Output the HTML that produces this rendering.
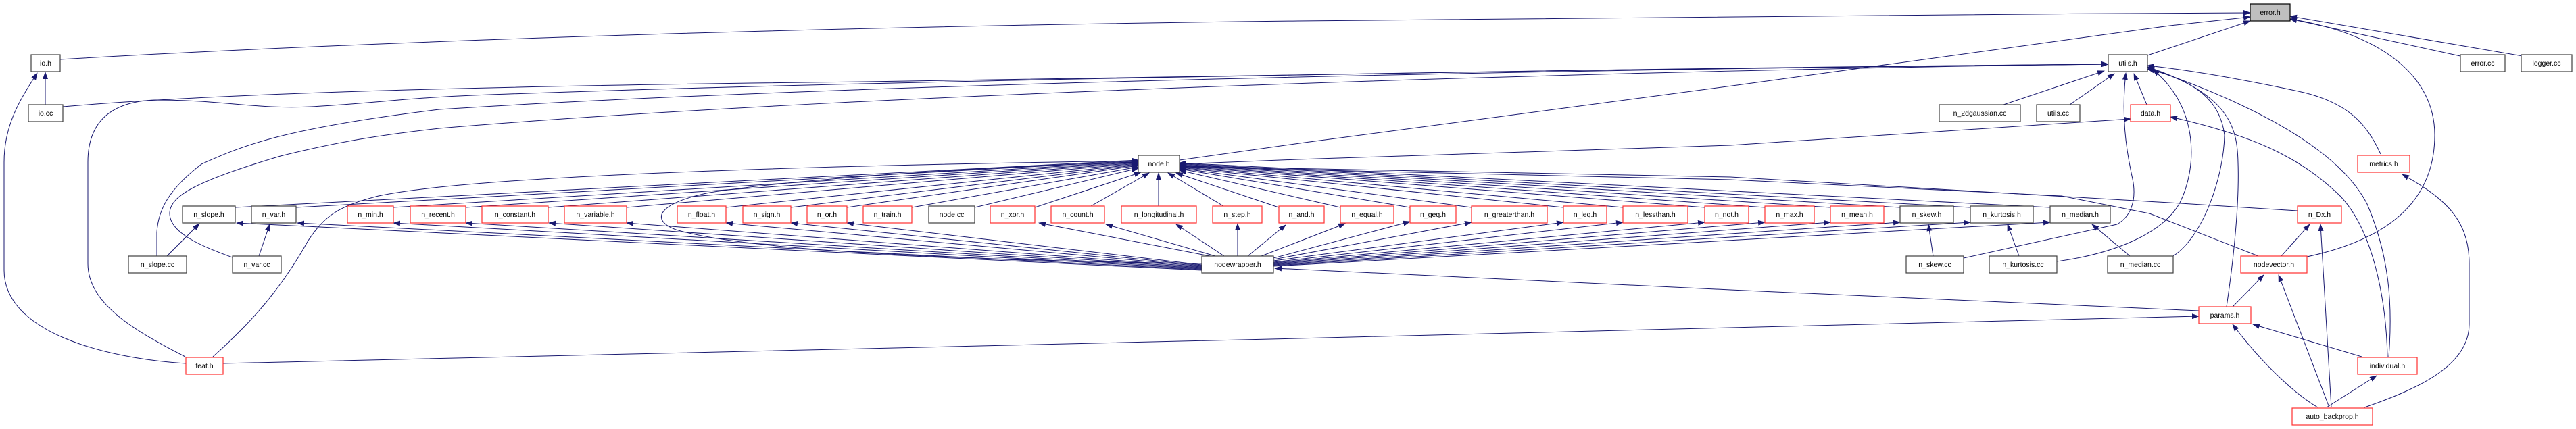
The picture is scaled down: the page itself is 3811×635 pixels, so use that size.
<!DOCTYPE html>
<html><head><meta charset="utf-8"><style>
html,body{margin:0;padding:0;background:#fff}
svg{display:block}
text{font-family:"Liberation Sans",sans-serif;font-size:10.5px;fill:#000;text-anchor:middle}
.e{fill:none;stroke:#191970;stroke-width:1}
.b{fill:#fff;stroke:#404040;stroke-width:1.2}
.r{fill:#fff;stroke:#ff3030;stroke-width:1.2}
</style></head><body>
<svg width="3811" height="635" viewBox="0 0 3811 635" xmlns="http://www.w3.org/2000/svg">
<defs><marker id="a" markerWidth="11" markerHeight="8" refX="10" refY="4" orient="auto" markerUnits="userSpaceOnUse"><path d="M0,0 L11,4 L0,8 z" fill="#191970"/></marker></defs>
<g class="e" marker-end="url(#a)">
<!-- to error.h -->
<path d="M89,88 C600,58 1300,38 1920,31 S2900,21 3329,19"/>
<path d="M1745,237 L1930,211 L2570,126 L3210,38 L3329,25"/>
<path d="M3177,82 L3329,31"/>
<path d="M3640,83 L3388,28"/>
<path d="M3732,83 L3388,24"/>
<path d="M3413,380 C3530,355 3602,300 3602,200 C3602,110 3520,50 3388,28"/>
<!-- io.h -->
<path d="M67,155 L67,107"/>
<path d="M275,538 C150,530 6,490 6,400 L6,240 C6,180 35,140 55,108"/>
<!-- to utils.h -->
<path d="M93,158 C300,140 640,128 1280,121 S2500,98 3119,95"/>
<path d="M274,528 C200,490 130,450 130,390 L130,240 C130,175 170,150 230,148 C330,148 380,162 460,158 C540,154 600,145 700,141 C1300,118 2500,100 3119,95"/>
<path d="M232,379 L232,344 C234,310 250,280 298,243 C360,215 420,190 650,162 C1300,120 2500,100 3119,95"/>
<path d="M344,381 C300,365 250,345 251,315 C252,290 290,268 415,231 C500,210 560,200 650,190 C1300,135 2500,102 3119,95"/>
<path d="M2964,155 L3113,105"/>
<path d="M3062,155 L3128,109"/>
<path d="M3176,155 L3157,109"/>
<path d="M2905,382 L3132,332 C3150,322 3162,300 3155,265 C3145,220 3138,170 3145,108"/>
<path d="M3043,387 C3130,375 3200,345 3225,300 C3250,250 3255,160 3185,103"/>
<path d="M3215,379 C3260,350 3290,260 3291,200 C3285,150 3250,120 3177,102"/>
<path d="M3294,454 C3305,380 3313,300 3311,241 C3310,190 3300,140 3177,99"/>
<path d="M3534,528 C3540,450 3535,380 3502,302 C3470,240 3380,170 3177,100"/>
<path d="M3522,228 C3500,180 3470,150 3400,135 C3330,120 3250,105 3177,97"/>
<!-- data.h -->
<path d="M1745,243 L1920,236 L2560,215 L3152,176"/>
<path d="M3532,528 C3530,440 3510,340 3462,290 C3400,230 3330,200 3211,173"/>
<!-- to node.h -->
<path d="M315,528 C380,470 420,420 456,356 C480,320 500,305 560,290 C700,260 1200,245 1684,238"/>
<path d="M348,307 L1684,237"/><path d="M438,307 L1684,238"/>
<path d="M582,307 L1684,239"/><path d="M689,307 L1684,240"/>
<path d="M811,307 L1684,241"/><path d="M927,307 L1684,242"/>
<path d="M1074,307 L1684,243"/><path d="M1170,307 L1684,244"/>
<path d="M1253,307 L1684,245"/><path d="M1349,307 L1684,247"/>
<path d="M1442,307 L1684,249"/><path d="M1531,307 L1688,255"/>
<path d="M1614,305 L1700,256"/><path d="M1714,305 L1714,256"/>
<path d="M1810,305 L1728,256"/><path d="M1892,307 L1740,256"/>
<path d="M1983,307 L1745,252"/><path d="M2086,307 L1745,250"/>
<path d="M2177,307 L1745,249"/><path d="M2313,307 L1745,248"/>
<path d="M2401,307 L1745,247"/><path d="M2522,307 L1745,246"/>
<path d="M2611,307 L1745,245"/><path d="M2708,307 L1745,244"/>
<path d="M2811,307 L1745,243"/><path d="M2915,307 L1745,242"/>
<path d="M3033,307 L1745,241"/>
<path d="M3399,312 L3210,300 L2560,262 L1745,246"/>
<path d="M3341,379 L3180,316 L3050,290 L2560,266 L1745,247"/>
<path d="M1778,390 C1400,385 1100,370 1000,340 C960,325 975,300 1050,285 C1200,262 1500,245 1684,240"/>
<!-- nodewrapper to n_*.h -->
<path d="M1778,400 L350,330"/><path d="M1778,399 L440,330"/>
<path d="M1778,398 L582,330"/><path d="M1778,397 L689,330"/>
<path d="M1778,396 L812,330"/><path d="M1778,395 L927,330"/>
<path d="M1778,394 L1074,330"/><path d="M1778,393 L1170,330"/>
<path d="M1778,392 L1253,330"/><path d="M1790,379 L1537,330"/>
<path d="M1798,379 L1636,332"/><path d="M1811,379 L1740,332"/>
<path d="M1831,379 L1831,331"/><path d="M1846,379 L1902,333"/>
<path d="M1866,379 L1990,331"/><path d="M1884,382 L2086,328"/>
<path d="M1884,384 L2177,329"/><path d="M1884,386 L2313,329"/>
<path d="M1884,388 L2401,329"/><path d="M1884,389 L2522,329"/>
<path d="M1884,390 L2611,329"/><path d="M1884,391 L2708,329"/>
<path d="M1884,392 L2811,329"/><path d="M1884,393 L2915,329"/>
<path d="M1884,394 L3033,329"/>
<!-- .cc to .h -->
<path d="M247,379 L295,331"/><path d="M383,379 L399,332"/>
<path d="M2860,379 L2853,332"/><path d="M2987,379 L2970,332"/>
<path d="M3151,379 L3095,332"/>
<!-- lower right -->
<path d="M3253,460 L2560,429 L1886,397"/>
<path d="M330,538 L1280,516 L1920,501 L2560,485 L3253,468"/>
<path d="M3498,603 C3580,575 3653,540 3653,480 L3653,390 C3653,320 3610,290 3554,258"/>
<path d="M3375,379 L3417,332"/>
<path d="M3449,603 L3433,332"/>
<path d="M3303,454 L3349,407"/>
<path d="M3446,603 L3371,407"/>
<path d="M3494,528 L3333,480"/>
<path d="M3429,603 C3390,580 3340,530 3303,480"/>
<path d="M3442,603 L3516,556"/>
</g>
<g>
<rect x="3329" y="6" width="59" height="25" fill="#bfbfbf" stroke="#000" stroke-width="1.2"/><text x="3358.5" y="22">error.h</text>
<rect class="b" x="46" y="81" width="43" height="25"/><text x="67.5" y="97">io.h</text>
<rect class="b" x="3119" y="81" width="58" height="25"/><text x="3148" y="97">utils.h</text>
<rect class="b" x="3640" y="81" width="66" height="25"/><text x="3673" y="97">error.cc</text>
<rect class="b" x="3730" y="81" width="75" height="25"/><text x="3767.5" y="97">logger.cc</text>
<rect class="b" x="42" y="155" width="51" height="25"/><text x="67.5" y="171">io.cc</text>
<rect class="b" x="2869" y="155" width="120" height="25"/><text x="2929" y="171">n_2dgaussian.cc</text>
<rect class="b" x="3013" y="155" width="64" height="25"/><text x="3045" y="171">utils.cc</text>
<rect class="r" x="3152" y="155" width="59" height="25"/><text x="3181.5" y="171">data.h</text>
<rect class="b" x="1684" y="230" width="61" height="25"/><text x="1714.5" y="246">node.h</text>
<rect class="r" x="3488" y="230" width="77" height="25"/><text x="3526.5" y="246">metrics.h</text>
<rect class="b" x="270" y="305" width="78" height="25"/><text x="309" y="321">n_slope.h</text>
<rect class="b" x="372" y="305" width="66" height="25"/><text x="405" y="321">n_var.h</text>
<rect class="r" x="514" y="305" width="68" height="25"/><text x="548" y="321">n_min.h</text>
<rect class="r" x="607" y="305" width="82" height="25"/><text x="648" y="321">n_recent.h</text>
<rect class="r" x="713" y="305" width="98" height="25"/><text x="762" y="321">n_constant.h</text>
<rect class="r" x="835" y="305" width="92" height="25"/><text x="881" y="321">n_variable.h</text>
<rect class="r" x="1002" y="305" width="72" height="25"/><text x="1038" y="321">n_float.h</text>
<rect class="r" x="1099" y="305" width="71" height="25"/><text x="1134.5" y="321">n_sign.h</text>
<rect class="r" x="1194" y="305" width="59" height="25"/><text x="1223.5" y="321">n_or.h</text>
<rect class="r" x="1277" y="305" width="72" height="25"/><text x="1313" y="321">n_train.h</text>
<rect class="b" x="1374" y="305" width="68" height="25"/><text x="1408" y="321">node.cc</text>
<rect class="r" x="1465" y="305" width="66" height="25"/><text x="1498" y="321">n_xor.h</text>
<rect class="r" x="1555" y="305" width="79" height="25"/><text x="1594.5" y="321">n_count.h</text>
<rect class="r" x="1659" y="305" width="111" height="25"/><text x="1714.5" y="321">n_longitudinal.h</text>
<rect class="r" x="1794" y="305" width="73" height="25"/><text x="1830.5" y="321">n_step.h</text>
<rect class="r" x="1892" y="305" width="67" height="25"/><text x="1925.5" y="321">n_and.h</text>
<rect class="r" x="1983" y="305" width="79" height="25"/><text x="2022.5" y="321">n_equal.h</text>
<rect class="r" x="2086" y="305" width="68" height="25"/><text x="2120" y="321">n_geq.h</text>
<rect class="r" x="2177" y="305" width="112" height="25"/><text x="2233" y="321">n_greaterthan.h</text>
<rect class="r" x="2313" y="305" width="64" height="25"/><text x="2345" y="321">n_leq.h</text>
<rect class="r" x="2401" y="305" width="96" height="25"/><text x="2449" y="321">n_lessthan.h</text>
<rect class="r" x="2522" y="305" width="65" height="25"/><text x="2554.5" y="321">n_not.h</text>
<rect class="r" x="2611" y="305" width="73" height="25"/><text x="2647.5" y="321">n_max.h</text>
<rect class="r" x="2708" y="305" width="79" height="25"/><text x="2747.5" y="321">n_mean.h</text>
<rect class="b" x="2811" y="305" width="79" height="25"/><text x="2850.5" y="321">n_skew.h</text>
<rect class="b" x="2915" y="305" width="93" height="25"/><text x="2961.5" y="321">n_kurtosis.h</text>
<rect class="b" x="3033" y="305" width="89" height="25"/><text x="3077.5" y="321">n_median.h</text>
<rect class="r" x="3399" y="305" width="65" height="25"/><text x="3431.5" y="321">n_Dx.h</text>
<rect class="b" x="190" y="379" width="86" height="25"/><text x="233" y="395">n_slope.cc</text>
<rect class="b" x="344" y="379" width="72" height="25"/><text x="380" y="395">n_var.cc</text>
<rect class="b" x="1778" y="379" width="106" height="25"/><text x="1831" y="395">nodewrapper.h</text>
<rect class="b" x="2820" y="379" width="85" height="25"/><text x="2862.5" y="395">n_skew.cc</text>
<rect class="b" x="2943" y="379" width="100" height="25"/><text x="2993" y="395">n_kurtosis.cc</text>
<rect class="b" x="3118" y="379" width="97" height="25"/><text x="3166.5" y="395">n_median.cc</text>
<rect class="r" x="3315" y="379" width="98" height="25"/><text x="3364" y="395">nodevector.h</text>
<rect class="r" x="3253" y="454" width="77" height="25"/><text x="3291.5" y="470">params.h</text>
<rect class="r" x="275" y="529" width="55" height="25"/><text x="302.5" y="545">feat.h</text>
<rect class="r" x="3488" y="529" width="88" height="25"/><text x="3532" y="545">individual.h</text>
<rect class="r" x="3391" y="604" width="119" height="25"/><text x="3450.5" y="620">auto_backprop.h</text>
</g>
</svg>
</body></html>
